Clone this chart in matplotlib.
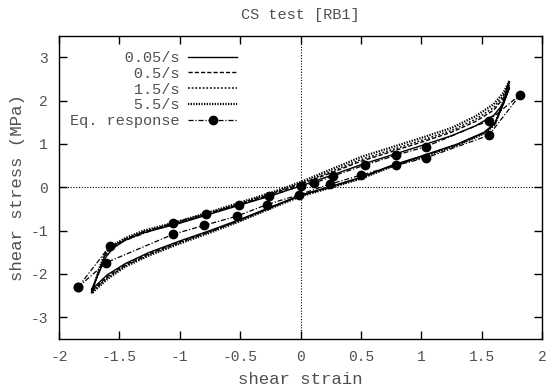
import matplotlib
matplotlib.use("Agg")
import matplotlib.pyplot as plt

# ---- data -------------------------------------------------------------
rate_labels = ["0.05/s", "0.5/s", "1.5/s", "5.5/s"]

strain_up = [-1.73, -1.67, -1.62, -1.55, -1.45, -1.3, -1.0, -0.75, -0.5, -0.25,
             0.0, 0.25, 0.5, 0.75, 1.0, 1.25, 1.45, 1.6, 1.68, 1.73]
strain_down = [1.73, 1.67, 1.61, 1.52, 1.3, 1.0, 0.75, 0.5, 0.25, 0.0,
               -0.25, -0.5, -0.75, -1.0, -1.25, -1.45, -1.6, -1.73]

stress_up_005 = [-2.36, -1.98, -1.64, -1.40, -1.22, -1.05, -0.83, -0.62, -0.41, -0.20,
                 0.03, 0.27, 0.52, 0.74, 0.96, 1.19, 1.42, 1.66, 1.93, 2.30]
stress_up_05 = [-2.40, -1.95, -1.58, -1.37, -1.20, -1.03, -0.81, -0.60, -0.39, -0.17,
                0.07, 0.33, 0.60, 0.82, 1.04, 1.27, 1.52, 1.78, 2.06, 2.38]
stress_up_15 = [-2.42, -1.93, -1.55, -1.35, -1.19, -1.02, -0.80, -0.59, -0.37, -0.15,
                0.09, 0.36, 0.64, 0.86, 1.08, 1.31, 1.57, 1.84, 2.12, 2.42]
stress_up_55 = [-2.45, -1.90, -1.52, -1.33, -1.17, -1.00, -0.78, -0.57, -0.35, -0.13,
                0.12, 0.41, 0.70, 0.92, 1.14, 1.37, 1.64, 1.92, 2.18, 2.46]

stress_down_005 = [2.30, 1.85, 1.48, 1.27, 1.00, 0.72, 0.50, 0.23, 0.02, -0.18,
                   -0.46, -0.74, -1.00, -1.24, -1.50, -1.76, -2.02, -2.36]
stress_down_05 = [2.38, 1.88, 1.47, 1.26, 0.99, 0.71, 0.49, 0.22, 0.01, -0.19,
                  -0.47, -0.76, -1.02, -1.26, -1.53, -1.79, -2.06, -2.40]
stress_down_15 = [2.42, 1.90, 1.46, 1.25, 0.98, 0.70, 0.48, 0.21, 0.00, -0.20,
                  -0.48, -0.77, -1.03, -1.28, -1.55, -1.81, -2.09, -2.42]
stress_down_55 = [2.46, 1.92, 1.45, 1.24, 0.97, 0.69, 0.47, 0.20, -0.01, -0.21,
                  -0.49, -0.78, -1.05, -1.30, -1.57, -1.83, -2.12, -2.45]

eq_strain = [-1.84, -1.58, -1.06, -0.78, -0.51, -0.26, 0.0, 0.11, 0.27, 0.53, 0.79,
             1.04, 1.56, 1.82, 1.56, 1.04, 0.79, 0.50, 0.24, -0.01, -0.28, -0.53,
             -0.80, -1.06, -1.61, -1.84]
eq_stress = [-2.30, -1.36, -0.82, -0.61, -0.40, -0.21, 0.03, 0.09, 0.26, 0.51, 0.74,
             0.94, 1.54, 2.14, 1.20, 0.68, 0.51, 0.28, 0.07, -0.17, -0.40, -0.67,
             -0.88, -1.09, -1.74, -2.30]

x_ticks = [-2, -1.5, -1, -0.5, 0, 0.5, 1, 1.5, 2]
x_tick_labels = ["-2", "-1.5", "-1", "-0.5", "0", "0.5", "1", "1.5", "2"]
y_ticks = [-3, -2, -1, 0, 1, 2, 3]

# ---- style -------------------------------------------------------------
plt.rcParams["font.family"] = ["Liberation Mono", "DejaVu Sans Mono"]
plt.rcParams["axes.unicode_minus"] = False
txt = "#505050"

fig = plt.figure(figsize=(5.49, 3.92), dpi=100)
ax = fig.add_axes([0.1075, 0.1355, 0.8798, 0.7735])

ups = [stress_up_005, stress_up_05, stress_up_15, stress_up_55]
downs = [stress_down_005, stress_down_05, stress_down_15, stress_down_55]
styles = ["-", (0, (3, 1.5)), (0, (1.2, 1.2)), (0, (0.6, 0.6))]
widths = [1.0, 1.0, 1.1, 1.6]
width_pad = max(len(s) for s in rate_labels + ["Eq. response"])

for lab, up, dn, ls, lw in zip(rate_labels, ups, downs, styles, widths):
    xs = strain_up + strain_down
    ys = up + dn
    ax.plot(xs, ys, color="black", linestyle=ls, linewidth=lw,
            label=lab.rjust(width_pad))

ax.plot(eq_strain, eq_stress, color="black", linestyle=(0, (4, 1.5, 1, 1.5)),
        linewidth=0.9, marker="o", markersize=6,
        label="Eq. response".rjust(width_pad))

ax.axhline(0, color="black", linestyle=(0, (1, 1.5)), linewidth=0.8, zorder=0)
ax.axvline(0, color="black", linestyle=(0, (1, 1.5)), linewidth=0.8, zorder=0)

ax.set_xlim(-2, 2)
ax.set_ylim(-3.5, 3.5)
ax.set_xticks(x_ticks)
ax.set_xticklabels(x_tick_labels)
ax.set_yticks(y_ticks)
ax.tick_params(direction="in", length=6, width=1, top=True, right=True,
               labelsize=10.5, colors="black", labelcolor=txt, pad=8)
for s in ax.spines.values():
    s.set_linewidth(1.0)

ax.set_xlabel("shear strain", fontsize=12.5, color=txt, labelpad=6)
ax.set_ylabel("shear stress (MPa)", fontsize=12.5, color=txt, labelpad=4)
ax.set_title("CS test [RB1]", fontsize=11, color=txt, pad=12)

leg = ax.legend(loc="upper left", bbox_to_anchor=(0.0, 0.985), frameon=False,
                markerfirst=False, fontsize=11, handlelength=3.2,
                handletextpad=0.6, labelspacing=0.12, borderaxespad=0.3,
                labelcolor=txt)

fig.savefig("out.png", dpi=100)
